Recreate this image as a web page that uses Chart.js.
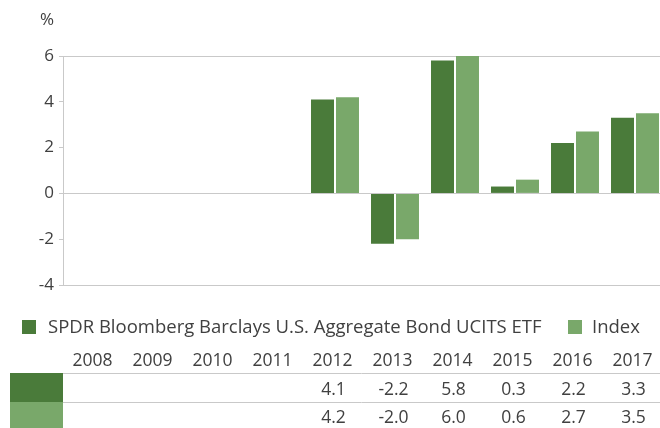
<!DOCTYPE html>
<html>
<head>
<meta charset="utf-8">
<script src="https://cdn.jsdelivr.net/npm/chart.js@4"></script>
<style>
  body { margin: 0; background: #fff; }
  #wrap { width: 660px; height: 428px; position: relative; }
</style>
</head>
<body>
<div id="wrap"><canvas id="perfChart"></canvas></div>
<script>
// data
const years = ['2008', '2009', '2010', '2011', '2012', '2013', '2014', '2015', '2016', '2017'];
const etfReturns = [null, null, null, null, 4.1, -2.2, 5.8, 0.3, 2.2, 3.3];
const indexReturns = [null, null, null, null, 4.2, -2.0, 6.0, 0.6, 2.7, 3.5];
const seriesNames = ['SPDR Bloomberg Barclays U.S. Aggregate Bond UCITS ETF', 'Index'];
const yMin = -4;
const yMax = 6;
const yStep = 2;

const darkGreen = '#4a7b3a';
const lightGreen = '#79a86a';
const gridGray = '#c9c9c9';
const textGray = '#404040';
const fontFamily = '"Open Sans", "Noto Sans", sans-serif';

// the bar groups sit a little right of the plot, nudge the hidden x scale
const shiftX = {
    id: 'shiftX',
    afterLayout(chart) {
        const x = chart.scales.x;
        x.left += 2;
        x.right += 5;
        x.width = x.right - x.left;
        x.configure();
    }
};

// legend + data table drawn under the plot
const tablePlugin = {
    id: 'tablePlugin',
    afterDraw(chart) {
        const ctx = chart.ctx;
        const x = chart.scales.x;
        const area = chart.chartArea;
        ctx.save();

        // "%" unit label
        ctx.fillStyle = textGray;
        ctx.font = '17px ' + fontFamily;
        ctx.textAlign = 'center';
        ctx.textBaseline = 'middle';
        ctx.fillText('%', 47, 20);

        // legend
        const legendY = 327;
        ctx.font = '18.5px ' + fontFamily;
        ctx.textAlign = 'left';
        ctx.fillStyle = darkGreen;
        ctx.fillRect(22, legendY - 7, 14, 14);
        ctx.fillStyle = textGray;
        ctx.fillText(seriesNames[0], 48, legendY + 1, 500);
        ctx.fillStyle = lightGreen;
        ctx.fillRect(568, legendY - 7, 14, 14);
        ctx.fillStyle = textGray;
        ctx.fillText(seriesNames[1], 592, legendY + 1);

        // table
        const headY = 361;
        const row1Top = 373, row2Top = 402, rowBottom = 428;
        ctx.textAlign = 'center';
        ctx.font = '17.5px ' + fontFamily;
        years.forEach((yr, i) => {
            ctx.fillText(yr, x.getPixelForValue(i) - 2.5, headY);
        });

        ctx.strokeStyle = gridGray;
        ctx.lineWidth = 1;
        [row1Top, row2Top].forEach(yy => {
            ctx.beginPath();
            ctx.moveTo(area.left, yy + 0.5);
            ctx.lineTo(660, yy + 0.5);
            ctx.stroke();
        });

        ctx.fillStyle = darkGreen;
        ctx.fillRect(10, row1Top, area.left - 10, row2Top - row1Top);
        ctx.fillStyle = lightGreen;
        ctx.fillRect(10, row2Top, area.left - 10, rowBottom - row2Top);

        ctx.fillStyle = textGray;
        [etfReturns, indexReturns].forEach((vals, r) => {
            const cy = r === 0 ? 390 : 418;
            vals.forEach((v, i) => {
                if (v === null) return;
                ctx.fillText(v.toFixed(1), x.getPixelForValue(i) - 1.5, cy);
            });
        });

        ctx.restore();
    }
};

const ctx = document.getElementById('perfChart');
new Chart(ctx, {
    type: 'bar',
    data: {
        labels: years,
        datasets: [
            {
                label: seriesNames[0],
                data: etfReturns,
                backgroundColor: darkGreen,
                categoryPercentage: 0.833,
                barPercentage: 0.92,
            },
            {
                label: seriesNames[1],
                data: indexReturns,
                backgroundColor: lightGreen,
                categoryPercentage: 0.833,
                barPercentage: 0.92,
            },
        ],
    },
    options: {
        responsive: true,
        maintainAspectRatio: false,
        animation: false,
        layout: { padding: { top: 56, bottom: 143, left: 0, right: 0 } },
        plugins: {
            legend: { display: false },
            tooltip: { enabled: false },
        },
        scales: {
            x: { display: false },
            y: {
                min: yMin,
                max: yMax,
                afterFit(scale) { scale.width = 63; },
                ticks: {
                    stepSize: yStep,
                    color: textGray,
                    padding: 5,
                    font: { family: fontFamily, size: 17 },
                },
                grid: {
                    color: c => (c.tick && [yMax, 0, yMin].includes(c.tick.value)) ? gridGray : 'rgba(0,0,0,0)',
                    tickColor: gridGray,
                    tickLength: 4,
                },
                border: { color: gridGray },
            },
        },
    },
    plugins: [shiftX, tablePlugin],
});
</script>
</body>
</html>
